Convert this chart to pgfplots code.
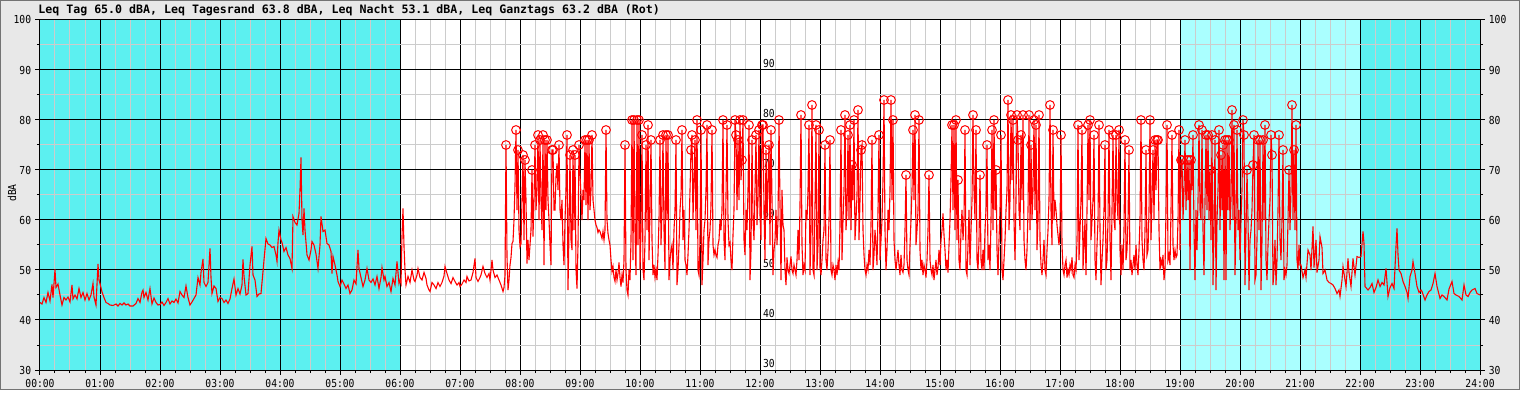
\documentclass[border=0pt]{standalone}
\usepackage{pgfplots}
\pgfplotsset{compat=1.18}
\usepackage{pgfplotstable}
\usepackage{fontspec}
\setmonofont{DejaVu Sans Mono}
\newfontfamily\tickfont[FakeStretch=0.88]{DejaVu Sans Mono}
\newfontfamily\titlefont{DejaVu Sans Mono}
\definecolor{nightc}{RGB}{92,240,240}
\definecolor{evec}{RGB}{170,255,255}
\definecolor{bgc}{RGB}{232,232,232}
\definecolor{mgrid}{RGB}{204,204,204}
\newcommand{\tf}{\tickfont\fontsize{5.5pt}{6pt}\selectfont}

\pgfplotstableread[row sep=\\]{
x y\\
0 43.5\\ 2 43.2\\ 4 44.5\\ 6 43.5\\ 8 45.5\\ 10 43.8\\ 12 47.1\\ 13 44.5\\ 15 50.1\\ 16 46.5\\ 18 47.2\\ 20 45.0\\ 22 43.0\\ 24 44.5\\ 26 44.0\\ 28 44.6\\ 30 43.6\\ 32 47.0\\ 33 44.2\\ 35 45.0\\
37 44.2\\ 39 46.3\\ 41 44.5\\ 43 45.5\\ 45 44.0\\ 47 45.3\\ 49 44.0\\ 51 45.0\\ 53 47.3\\ 54 44.6\\ 56 43.0\\ 58 51.2\\ 59 48.0\\ 60 47.3\\ 62 45.6\\ 64 44.5\\ 66 43.5\\ 68 43.3\\ 70 43.0\\ 73 42.9\\
76 43.2\\ 78 42.8\\ 80 43.3\\ 82 43.0\\ 84 43.4\\ 86 43.0\\ 88 43.2\\ 90 42.8\\ 93 42.8\\ 96 43.3\\ 98 44.3\\ 100 43.5\\ 102 45.6\\ 103 46.0\\ 104 44.5\\ 106 45.5\\ 108 44.0\\ 110 46.3\\ 112 43.2\\ 114 44.4\\
116 43.5\\ 118 43.0\\ 120 43.1\\ 122 43.6\\ 124 42.9\\ 126 43.5\\ 128 44.3\\ 130 43.2\\ 132 43.8\\ 134 43.5\\ 136 44.2\\ 138 43.4\\ 140 45.7\\ 142 45.0\\ 144 44.5\\ 146 46.8\\ 148 44.5\\ 150 43.0\\ 152 43.6\\ 154 44.3\\
156 45.0\\ 158 48.5\\ 160 47.0\\ 161 49.5\\ 163 52.2\\ 164 47.5\\ 166 46.7\\ 168 47.5\\ 170 54.3\\ 171 48.5\\ 172 45.3\\ 174 46.8\\ 176 46.3\\ 178 43.7\\ 180 44.5\\ 182 44.3\\ 184 43.5\\ 186 44.0\\ 188 43.3\\ 190 44.2\\
192 46.3\\ 194 48.2\\ 196 45.0\\ 198 46.3\\ 200 45.2\\ 202 47.0\\ 203 52.1\\ 204 48.8\\ 206 45.0\\ 208 45.3\\ 210 51.0\\ 212 54.7\\ 213 49.0\\ 215 48.0\\ 217 44.7\\ 219 45.2\\ 221 45.3\\ 223 49.7\\ 224 52.0\\ 226 56.3\\
228 55.2\\ 230 55.0\\ 232 54.5\\ 234 54.7\\ 236 53.0\\ 237 51.7\\ 238 55.5\\ 239 58.0\\ 241 56.0\\ 242 55.5\\ 244 53.7\\ 246 54.5\\ 248 53.0\\ 250 52.3\\ 252 50.3\\ 253 60.7\\ 255 59.5\\ 257 59.0\\ 259 61.3\\ 260 66.0\\
261 72.5\\ 262 60.0\\ 263 57.0\\ 264 62.3\\ 265 58.0\\ 267 53.0\\ 269 52.0\\ 271 54.0\\ 272 55.7\\ 274 55.0\\ 276 53.2\\ 278 50.3\\ 280 55.0\\ 281 60.7\\ 283 57.7\\ 285 58.0\\ 287 55.3\\ 289 55.0\\ 291 53.7\\ 292 49.3\\
293 52.7\\ 295 51.0\\ 297 49.0\\ 298 47.7\\ 300 46.7\\ 302 48.0\\ 304 47.2\\ 306 46.3\\ 308 47.0\\ 310 45.3\\ 312 46.0\\ 314 48.0\\ 316 47.2\\ 318 54.0\\ 319 50.3\\ 321 48.5\\ 323 46.7\\ 325 48.0\\ 327 50.3\\ 329 48.0\\
331 47.5\\ 333 48.2\\ 335 47.0\\ 337 48.7\\ 339 46.3\\ 341 48.5\\ 342 50.5\\ 344 48.0\\ 345 48.7\\ 347 46.7\\ 349 47.5\\ 351 45.7\\ 353 48.3\\ 355 47.0\\ 357 51.7\\ 359 47.3\\ 360 48.0\\
361 47.3\\ 362 56.7\\ 363 62.3\\ 364 54.7\\ 365 50.0\\ 366 47.0\\ 368 48.7\\ 370 47.5\\ 372 50.0\\ 374 48.0\\ 375 47.7\\ 377 49.0\\ 378 50.3\\ 380 48.5\\ 382 48.0\\ 384 49.5\\ 386 48.3\\ 387 47.0\\ 389 46.0\\ 390 45.7\\
392 47.5\\ 394 47.0\\ 396 46.3\\ 398 47.5\\ 400 46.7\\ 402 47.5\\ 404 48.8\\ 405 50.7\\ 407 49.3\\ 409 48.0\\ 411 47.3\\ 413 48.5\\ 415 47.7\\ 417 47.0\\ 419 47.5\\ 420 46.7\\ 422 47.2\\ 424 48.0\\ 426 47.5\\ 427 48.7\\
429 47.8\\ 431 48.0\\ 433 49.5\\ 435 52.3\\ 436 48.5\\ 438 47.7\\ 440 48.5\\ 441 49.0\\ 443 50.7\\ 445 49.3\\ 447 48.5\\ 449 49.3\\ 450 48.0\\ 452 52.0\\ 453 50.0\\ 455 48.5\\ 457 49.0\\ 459 48.0\\ 461 47.0\\ 463 45.7\\
464 46.5\\ 465 49.0\\ 466 75.0\\ 467 52.7\\ 468 46.0\\ 469 48.0\\ 470 51.0\\ 471 52.5\\ 472 55.3\\ 473 55.7\\ 474 60.0\\ 475 67.0\\ 476 78.0\\ 477 62.0\\ 478 74.0\\ 479 58.0\\ 480 54.7\\ 481 55.3\\ 482 64.0\\ 483 73.0\\
484 56.0\\ 485 72.0\\ 486 64.0\\ 487 51.3\\ 488 56.0\\ 489 52.0\\ 490 55.0\\ 491 58.0\\ 492 70.0\\ 493 56.7\\ 494 64.0\\ 495 75.0\\ 496 62.0\\ 497 66.0\\ 498 77.0\\ 499 60.0\\ 500 76.0\\ 501 64.0\\ 502 58.0\\ 503 77.0\\
504 51.0\\ 505 76.0\\ 506 62.0\\ 507 76.0\\ 508 64.0\\ 509 60.0\\ 510 55.0\\ 511 51.0\\ 512 74.0\\ 513 74.0\\ 514 62.0\\ 515 62.0\\ 516 68.7\\ 517 71.3\\ 518 66.0\\ 519 75.0\\ 520 62.0\\ 521 60.0\\ 522 64.0\\ 523 55.0\\
524 51.0\\ 525 60.0\\ 526 66.0\\ 527 77.0\\ 528 46.0\\ 529 58.0\\ 530 73.0\\ 531 56.0\\ 532 54.0\\ 533 74.0\\ 534 58.0\\ 535 73.0\\ 536 50.0\\ 537 46.3\\ 538 55.0\\ 539 75.0\\ 540 69.0\\ 541 65.0\\ 542 60.0\\ 543 66.0\\
544 64.0\\ 545 76.0\\ 546 63.0\\ 547 76.0\\ 548 60.0\\ 549 76.0\\ 550 62.0\\ 551 66.0\\ 552 77.0\\ 553 64.0\\ 554 62.0\\ 555 60.0\\ 556 59.0\\ 557 58.5\\ 558 57.5\\ 559 58.0\\ 560 57.7\\ 561 57.0\\ 562 56.3\\ 563 57.7\\
564 56.0\\ 565 58.0\\ 566 78.0\\ 567 60.0\\ 568 57.3\\ 569 56.0\\ 570 55.0\\ 571 52.0\\ 572 49.7\\ 573 50.7\\ 574 48.5\\ 575 47.7\\ 576 50.0\\ 577 48.0\\ 578 49.3\\ 579 51.5\\ 580 48.5\\ 581 46.7\\ 582 49.0\\ 583 47.5\\
584 52.0\\ 585 75.0\\ 586 50.0\\ 587 46.0\\ 588 45.0\\ 589 50.0\\ 590 48.0\\ 591 56.0\\ 592 80.0\\ 593 52.0\\ 594 80.0\\ 595 58.0\\ 596 49.0\\ 597 80.0\\ 598 55.0\\ 599 80.0\\ 600 50.0\\ 601 58.0\\ 602 77.0\\ 603 50.0\\
604 48.0\\ 605 56.0\\ 606 75.0\\ 607 58.0\\ 608 79.0\\ 609 52.0\\ 610 62.0\\ 611 76.0\\ 612 56.0\\ 613 49.0\\ 614 51.0\\ 615 48.5\\ 616 50.0\\ 617 48.0\\ 618 53.0\\ 619 60.0\\ 620 76.0\\ 621 55.0\\ 622 62.0\\ 623 77.0\\
624 58.0\\ 625 50.0\\ 626 77.0\\ 627 60.0\\ 628 77.0\\ 629 48.0\\ 630 52.0\\ 631 54.0\\ 632 55.0\\ 633 50.0\\ 634 58.0\\ 635 62.0\\ 636 76.0\\ 637 47.0\\ 638 50.0\\ 639 55.0\\ 640 62.0\\ 641 65.0\\ 642 78.0\\ 643 56.0\\
644 62.0\\ 645 52.0\\ 646 51.0\\ 647 49.0\\ 648 53.0\\ 649 58.0\\ 650 66.0\\ 651 74.0\\ 652 77.0\\ 653 60.0\\ 654 68.0\\ 655 76.0\\ 656 58.0\\ 657 80.0\\ 658 50.0\\ 659 49.0\\ 660 56.0\\ 661 78.0\\ 662 47.0\\ 663 52.0\\
664 58.0\\ 665 60.0\\ 666 66.0\\ 667 79.0\\ 668 51.0\\ 669 56.0\\ 670 58.0\\ 671 63.0\\ 672 78.0\\ 673 55.0\\ 674 53.0\\ 675 54.0\\ 676 53.0\\ 677 52.5\\ 678 55.0\\ 679 56.0\\ 680 60.0\\ 681 58.0\\ 682 62.0\\ 683 80.0\\
684 56.0\\ 685 52.0\\ 686 65.0\\ 687 79.0\\ 688 60.0\\ 689 55.0\\ 690 55.5\\ 691 52.0\\ 692 50.0\\ 693 57.0\\ 694 62.0\\ 695 80.0\\ 696 77.0\\ 697 62.0\\ 698 76.0\\ 699 64.0\\ 700 80.0\\ 701 68.0\\ 702 72.0\\ 703 80.0\\
704 56.0\\ 705 53.0\\ 706 62.0\\ 707 58.0\\ 708 66.0\\ 709 79.0\\ 710 48.0\\ 711 54.0\\ 712 76.0\\ 713 60.0\\ 714 56.0\\ 715 66.0\\ 716 77.0\\ 717 59.0\\ 718 64.0\\ 719 78.0\\ 720 61.0\\ 721 56.0\\ 722 79.0\\ 723 79.0\\
724 62.0\\ 725 52.0\\ 726 74.0\\ 727 60.0\\ 728 68.0\\ 729 75.0\\ 730 55.0\\ 731 78.0\\ 732 64.0\\ 733 49.0\\ 734 54.0\\ 735 56.0\\ 736 62.0\\ 737 55.0\\ 738 60.0\\ 739 80.0\\ 740 63.0\\ 741 48.0\\ 742 66.0\\ 743 59.0\\
744 58.0\\ 745 50.0\\ 746 47.0\\ 747 52.5\\ 748 50.0\\ 749 49.3\\ 750 51.0\\ 751 52.7\\ 752 50.0\\ 753 49.3\\ 754 51.0\\ 755 50.0\\ 756 49.0\\ 757 52.0\\ 758 58.0\\ 759 52.0\\ 760 63.0\\ 761 81.0\\ 762 55.0\\ 763 49.0\\
764 51.0\\ 765 50.0\\ 766 62.0\\ 767 60.0\\ 768 66.0\\ 769 79.0\\ 770 49.0\\ 771 58.0\\ 772 83.0\\ 773 50.0\\ 774 49.0\\ 775 63.0\\ 776 79.0\\ 777 50.0\\ 778 55.0\\ 779 78.0\\ 780 50.5\\ 781 49.0\\ 782 52.0\\ 783 56.0\\
784 58.0\\ 785 75.0\\ 786 52.0\\ 787 50.0\\ 788 54.0\\ 789 60.0\\ 790 76.0\\ 791 50.0\\ 792 49.0\\ 793 51.0\\ 794 50.0\\ 795 48.0\\ 796 51.0\\ 797 49.0\\ 798 51.5\\ 799 50.0\\ 800 59.0\\ 801 78.0\\ 802 52.0\\ 803 60.0\\
804 66.0\\ 805 81.0\\ 806 58.0\\ 807 62.0\\ 808 77.0\\ 809 60.0\\ 810 79.0\\ 811 58.0\\ 812 71.0\\ 813 64.0\\ 814 80.0\\ 815 56.0\\ 816 60.0\\ 817 65.0\\ 818 82.0\\ 819 56.0\\ 820 64.0\\ 821 74.0\\ 822 75.0\\ 823 58.0\\
824 53.0\\ 825 50.0\\ 826 49.0\\ 827 51.0\\ 828 50.0\\ 829 54.0\\ 830 51.0\\ 831 59.0\\ 832 76.0\\ 833 50.0\\ 834 53.0\\ 835 58.0\\ 836 55.0\\ 837 51.0\\ 838 62.0\\ 839 77.0\\ 840 52.0\\ 841 56.0\\ 842 60.0\\ 843 68.0\\
844 84.0\\ 845 58.0\\ 846 50.0\\ 847 54.0\\ 848 62.0\\ 849 58.0\\ 850 66.0\\ 851 84.0\\ 852 64.0\\ 853 80.0\\ 854 56.0\\ 855 52.0\\ 856 50.0\\ 857 52.0\\ 858 54.0\\ 859 51.0\\ 860 49.0\\ 861 53.0\\ 862 50.0\\ 863 49.5\\
864 51.0\\ 865 58.0\\ 866 69.0\\ 867 52.0\\ 868 50.0\\ 869 49.0\\ 870 55.0\\ 871 60.0\\ 872 66.0\\ 873 78.0\\ 874 64.0\\ 875 81.0\\ 876 55.0\\ 877 58.0\\ 878 62.0\\ 879 80.0\\ 880 54.0\\ 881 50.0\\ 882 52.0\\ 883 49.0\\
884 51.0\\ 885 50.0\\ 886 48.5\\ 887 52.0\\ 888 58.0\\ 889 69.0\\ 890 52.0\\ 891 50.0\\ 892 49.0\\ 893 51.0\\ 894 48.0\\ 895 50.0\\ 896 52.0\\ 897 49.0\\ 898 50.5\\ 899 54.0\\ 900 51.0\\ 901 56.0\\ 902 58.0\\ 903 61.3\\
904 57.0\\ 905 54.0\\ 906 50.0\\ 907 52.0\\ 908 49.5\\ 909 55.0\\ 910 60.0\\ 911 68.0\\ 912 79.0\\ 913 62.0\\ 914 79.0\\ 915 58.0\\ 916 80.0\\ 917 56.0\\ 918 68.0\\ 919 52.0\\ 920 50.0\\ 921 58.0\\ 922 62.0\\ 923 56.0\\
924 60.0\\ 925 78.0\\ 926 50.0\\ 927 49.0\\ 928 55.0\\ 929 62.0\\ 930 51.0\\ 931 58.0\\ 932 64.0\\ 933 81.0\\ 934 66.0\\ 935 60.0\\ 936 78.0\\ 937 52.0\\ 938 50.0\\ 939 56.0\\ 940 69.0\\ 941 52.0\\ 942 50.0\\ 943 54.0\\
944 50.0\\ 945 58.0\\ 946 62.0\\ 947 75.0\\ 948 52.0\\ 949 55.0\\ 950 50.0\\ 951 60.0\\ 952 78.0\\ 953 58.0\\ 954 80.0\\ 955 62.0\\ 956 70.0\\ 957 54.0\\ 958 49.0\\ 959 56.0\\ 960 62.0\\ 961 77.0\\ 962 50.0\\ 963 48.0\\
964 52.0\\ 965 56.0\\ 966 62.0\\ 967 66.0\\ 968 84.0\\ 969 58.0\\ 970 64.0\\ 971 81.0\\ 972 68.0\\ 973 80.0\\ 974 60.0\\ 975 52.0\\ 976 64.0\\ 977 81.0\\ 978 76.0\\ 979 62.0\\ 980 58.0\\ 981 77.0\\ 982 64.0\\ 983 81.0\\
984 56.0\\ 985 52.0\\ 986 50.0\\ 987 54.0\\ 988 62.0\\ 989 81.0\\ 990 58.0\\ 991 75.0\\ 992 60.0\\ 993 66.0\\ 994 80.0\\ 995 62.0\\ 996 79.0\\ 997 54.0\\ 998 60.0\\ 999 81.0\\ 1000 56.0\\ 1001 51.0\\ 1002 49.0\\ 1003 52.0\\
1004 56.0\\ 1005 50.0\\ 1006 49.0\\ 1007 54.0\\ 1008 58.0\\ 1009 64.0\\ 1010 83.0\\ 1011 62.0\\ 1012 55.0\\ 1013 78.0\\ 1014 60.0\\ 1015 64.0\\ 1016 62.0\\ 1017 59.0\\ 1018 57.0\\ 1019 55.0\\ 1020 58.0\\ 1021 77.0\\ 1022 55.0\\ 1023 50.0\\
1024 49.0\\ 1025 51.0\\ 1026 52.0\\ 1027 48.5\\ 1028 50.0\\ 1029 49.0\\ 1030 51.0\\ 1031 50.0\\ 1032 52.5\\ 1033 49.0\\ 1034 48.5\\ 1035 51.0\\ 1036 50.0\\ 1037 56.0\\ 1038 79.0\\ 1039 52.0\\ 1040 58.0\\ 1041 64.0\\ 1042 78.0\\ 1043 50.0\\
1044 55.0\\ 1045 60.0\\ 1046 49.0\\ 1047 62.0\\ 1048 79.0\\ 1049 64.0\\ 1050 80.0\\ 1051 56.0\\ 1052 60.0\\ 1053 64.0\\ 1054 77.0\\ 1055 52.0\\ 1056 48.0\\ 1057 55.0\\ 1058 60.0\\ 1059 79.0\\ 1060 58.0\\ 1061 47.0\\ 1062 52.0\\ 1063 56.0\\
1064 62.0\\ 1065 75.0\\ 1066 50.0\\ 1067 52.0\\ 1068 60.0\\ 1069 78.0\\ 1070 56.0\\ 1071 48.0\\ 1072 62.0\\ 1073 77.0\\ 1074 60.0\\ 1075 58.0\\ 1076 77.0\\ 1077 64.0\\ 1078 60.0\\ 1079 78.0\\ 1080 54.0\\ 1081 49.0\\ 1082 55.0\\ 1083 50.0\\
1084 58.0\\ 1085 76.0\\ 1086 52.0\\ 1087 54.0\\ 1088 60.0\\ 1089 74.0\\ 1090 50.0\\ 1091 52.0\\ 1092 49.0\\ 1093 51.0\\ 1094 53.0\\ 1095 50.0\\ 1096 55.0\\ 1097 51.0\\ 1098 49.0\\ 1099 54.0\\ 1100 60.0\\ 1101 80.0\\ 1102 56.0\\ 1103 52.0\\
1104 50.0\\ 1105 58.0\\ 1106 74.0\\ 1107 53.0\\ 1108 54.0\\ 1109 62.0\\ 1110 80.0\\ 1111 56.0\\ 1112 64.0\\ 1113 74.0\\ 1114 60.0\\ 1115 76.0\\ 1116 66.0\\ 1117 76.0\\ 1118 76.0\\ 1119 58.0\\ 1120 50.0\\ 1121 52.0\\ 1122 51.0\\ 1123 53.0\\
1124 48.0\\ 1125 50.0\\ 1126 62.0\\ 1127 79.0\\ 1128 52.0\\ 1129 53.0\\ 1130 51.0\\ 1131 62.0\\ 1132 77.0\\ 1133 55.0\\ 1134 52.0\\ 1135 54.0\\ 1136 52.5\\ 1137 53.0\\ 1138 60.0\\ 1139 78.0\\ 1140 54.0\\ 1141 72.0\\ 1142 72.0\\ 1143 60.0\\
1144 66.0\\ 1145 76.0\\ 1146 62.0\\ 1147 72.0\\ 1148 64.0\\ 1149 72.0\\ 1150 50.0\\ 1151 72.0\\ 1152 66.0\\ 1153 77.0\\ 1154 58.0\\ 1155 48.0\\ 1156 62.0\\ 1157 54.0\\ 1158 64.0\\ 1159 79.0\\ 1160 62.0\\ 1161 60.0\\ 1162 78.0\\ 1163 58.0\\
1164 49.0\\ 1165 64.0\\ 1166 77.0\\ 1167 62.0\\ 1168 77.0\\ 1169 60.0\\ 1170 70.0\\ 1171 56.0\\ 1172 77.0\\ 1173 47.0\\ 1174 58.0\\ 1175 76.0\\ 1176 46.0\\ 1177 60.0\\ 1178 66.0\\ 1179 78.0\\ 1180 58.0\\ 1181 73.0\\ 1182 62.0\\ 1183 75.0\\
1184 48.0\\ 1185 76.0\\ 1186 48.0\\ 1187 76.0\\ 1188 62.0\\ 1189 76.0\\ 1190 58.0\\ 1191 64.0\\ 1192 82.0\\ 1193 60.0\\ 1194 79.0\\ 1195 49.0\\ 1196 60.0\\ 1197 78.0\\ 1198 58.0\\ 1199 62.0\\ 1200 52.0\\ 1201 60.0\\ 1202 66.0\\ 1203 80.0\\
1204 77.0\\ 1205 47.0\\ 1206 58.0\\ 1207 70.0\\ 1208 60.0\\ 1209 46.0\\ 1210 56.0\\ 1211 58.0\\ 1212 62.0\\ 1213 71.0\\ 1214 77.0\\ 1215 48.0\\ 1216 49.0\\ 1217 56.0\\ 1218 76.0\\ 1219 58.0\\ 1220 76.0\\ 1221 46.0\\ 1222 56.0\\ 1223 76.0\\
1224 60.0\\ 1225 79.0\\ 1226 52.0\\ 1227 48.0\\ 1228 55.0\\ 1229 60.0\\ 1230 64.0\\ 1231 77.0\\ 1232 73.0\\ 1233 47.0\\ 1234 50.0\\ 1235 56.0\\ 1236 47.0\\ 1237 52.0\\ 1238 62.0\\ 1239 77.0\\ 1240 56.0\\ 1241 52.0\\ 1242 60.0\\ 1243 74.0\\
1244 48.0\\ 1245 50.0\\ 1246 49.0\\ 1247 51.0\\ 1248 60.0\\ 1249 70.0\\ 1250 58.0\\ 1251 66.0\\ 1252 83.0\\ 1253 60.0\\ 1254 74.0\\ 1255 58.0\\ 1256 79.0\\ 1257 52.0\\ 1258 50.0\\ 1259 55.0\\ 1260 51.0\\
1261 51.0\\ 1263 48.5\\ 1265 50.0\\ 1266 48.5\\ 1268 54.0\\ 1270 53.0\\ 1271 50.0\\ 1273 58.7\\ 1274 50.5\\ 1276 56.0\\ 1277 49.5\\ 1279 52.0\\ 1280 56.7\\ 1282 54.5\\ 1283 49.3\\ 1285 50.0\\ 1287 48.0\\ 1289 47.5\\ 1291 47.3\\ 1293 47.0\\
1295 46.3\\ 1297 45.3\\ 1299 46.0\\ 1300 44.7\\ 1302 48.0\\ 1303 50.7\\ 1305 48.0\\ 1306 46.7\\ 1308 52.3\\ 1309 49.5\\ 1311 46.7\\ 1313 52.3\\ 1315 49.0\\ 1317 52.7\\ 1319 52.5\\ 1321 52.7\\ 1323 57.7\\ 1324 55.3\\ 1325 46.7\\ 1328 46.0\\
1330 46.5\\ 1332 47.3\\ 1334 45.5\\ 1336 46.5\\ 1338 48.0\\ 1340 46.7\\ 1342 47.5\\ 1344 47.0\\ 1346 50.3\\ 1348 44.7\\ 1350 46.5\\ 1352 47.3\\ 1354 46.3\\ 1356 54.7\\ 1357 58.3\\ 1358 53.0\\ 1359 50.0\\ 1361 49.3\\ 1363 47.7\\ 1365 46.7\\
1367 45.5\\ 1368 44.3\\ 1370 48.7\\ 1372 50.0\\ 1373 51.7\\ 1375 49.3\\ 1377 46.7\\ 1379 45.5\\ 1381 46.0\\ 1382 45.7\\ 1385 44.0\\ 1387 45.0\\ 1389 45.7\\ 1391 46.0\\ 1393 47.3\\ 1395 49.3\\ 1397 46.7\\ 1400 44.3\\ 1402 45.0\\ 1404 44.7\\
1407 44.0\\ 1409 46.2\\ 1412 47.7\\ 1414 45.3\\ 1416 45.0\\ 1419 44.7\\ 1422 44.0\\ 1424 47.0\\ 1426 45.0\\ 1428 44.7\\ 1430 45.5\\ 1432 46.0\\ 1435 46.3\\ 1437 45.3\\ 1440 45.0\\
}\levels

\pgfplotstableread[row sep=\\]{
x y\\
466 75\\ 476 78\\ 478 74\\ 483 73\\ 485 72\\ 492 70\\ 495 75\\ 498 77\\ 500 76\\ 503 77\\ 505 76\\ 507 76\\ 512 74\\ 513 74\\ 519 75\\ 527 77\\ 530 73\\ 533 74\\ 535 73\\ 539 75\\
545 76\\ 547 76\\ 549 76\\ 552 77\\ 566 78\\ 585 75\\ 592 80\\ 594 80\\ 597 80\\ 599 80\\ 602 77\\ 606 75\\ 608 79\\ 611 76\\ 620 76\\ 623 77\\ 626 77\\ 628 77\\ 636 76\\ 642 78\\
651 74\\ 652 77\\ 655 76\\ 657 80\\ 661 78\\ 667 79\\ 672 78\\ 683 80\\ 687 79\\ 695 80\\ 696 77\\ 698 76\\ 700 80\\ 702 72\\ 703 80\\ 709 79\\ 712 76\\ 716 77\\ 719 78\\ 722 79\\
723 79\\ 726 74\\ 729 75\\ 731 78\\ 739 80\\ 761 81\\ 769 79\\ 772 83\\ 776 79\\ 779 78\\ 785 75\\ 790 76\\ 801 78\\ 805 81\\ 808 77\\ 810 79\\ 812 71\\ 814 80\\ 818 82\\ 821 74\\
822 75\\ 832 76\\ 839 77\\ 844 84\\ 851 84\\ 853 80\\ 866 69\\ 873 78\\ 875 81\\ 879 80\\ 889 69\\ 912 79\\ 914 79\\ 916 80\\ 918 68\\ 925 78\\ 933 81\\ 936 78\\ 940 69\\ 947 75\\
952 78\\ 954 80\\ 956 70\\ 961 77\\ 968 84\\ 971 81\\ 973 80\\ 977 81\\ 978 76\\ 981 77\\ 983 81\\ 989 81\\ 991 75\\ 994 80\\ 996 79\\ 999 81\\ 1010 83\\ 1013 78\\ 1021 77\\ 1038 79\\
1042 78\\ 1048 79\\ 1050 80\\ 1054 77\\ 1059 79\\ 1065 75\\ 1069 78\\ 1073 77\\ 1076 77\\ 1079 78\\ 1085 76\\ 1089 74\\ 1101 80\\ 1106 74\\ 1110 80\\ 1113 74\\ 1115 76\\ 1117 76\\ 1118 76\\ 1127 79\\
1132 77\\ 1139 78\\ 1141 72\\ 1142 72\\ 1145 76\\ 1147 72\\ 1149 72\\ 1151 72\\ 1153 77\\ 1159 79\\ 1162 78\\ 1166 77\\ 1168 77\\ 1170 70\\ 1172 77\\ 1175 76\\ 1179 78\\ 1181 73\\ 1183 75\\ 1185 76\\
1187 76\\ 1189 76\\ 1192 82\\ 1194 79\\ 1197 78\\ 1203 80\\ 1204 77\\ 1207 70\\ 1213 71\\ 1214 77\\ 1218 76\\ 1220 76\\ 1223 76\\ 1225 79\\ 1231 77\\ 1232 73\\ 1239 77\\ 1243 74\\ 1249 70\\ 1252 83\\
1254 74\\ 1256 79\\
}\peaks

\pgfplotsset{
  chartbase/.style={
    scale only axis, width=720pt, height=175pt,
    at={(0pt,0pt)}, anchor=south west,
    xmin=0, xmax=1440, ymin=30, ymax=100,
    axis line style={black, line width=0.5pt},
    tick style={black, line width=0.5pt},
    tick align=outside,
    major tick length=2.4pt, minor tick length=1.6pt,
    tick label style={font=\tf},
    /pgf/number format/assume math mode=true,
    ytick={30,40,...,100}, minor y tick num=1,
  }
}

\begin{document}
\begin{tikzpicture}
\begin{axis}[chartbase,
  set layers, clip=false,
  xtick={0,60,...,1440},
  xticklabels={00:00,01:00,02:00,03:00,04:00,05:00,06:00,07:00,08:00,09:00,10:00,11:00,12:00,13:00,14:00,15:00,16:00,17:00,18:00,19:00,20:00,21:00,22:00,23:00,24:00},
  minor x tick num=3,
  xtick pos=bottom, ytick pos=left,
  xticklabel style={yshift=1.5pt},
  yticklabel style={xshift=1.5pt},
  grid=both,
  major grid style={black, line width=0.5pt},
  minor grid style={mgrid, line width=0.5pt},
]
\begin{pgfonlayer}{axis background}
\fill[bgc] ([shift={(-20pt,-10pt)}]rel axis cs:0,0) rectangle ([shift={(20pt,10pt)}]rel axis cs:1,1);
\fill[white] (axis cs:0,30) rectangle (axis cs:1440,100);
\fill[nightc] (axis cs:0,30) rectangle (axis cs:360,100);
\fill[evec] (axis cs:1140,30) rectangle (axis cs:1320,100);
\fill[nightc] (axis cs:1320,30) rectangle (axis cs:1440,100);
\end{pgfonlayer}
\begin{pgfonlayer}{axis tick labels}
\node[anchor=south west, inner sep=0pt, font=\tf, xshift=1.3pt, yshift=1.2pt] at (axis cs:720,30) {30};
\node[anchor=south west, inner sep=0pt, font=\tf, xshift=1.3pt, yshift=1.2pt] at (axis cs:720,40) {40};
\node[anchor=south west, inner sep=0pt, font=\tf, xshift=1.3pt, yshift=1.2pt] at (axis cs:720,50) {50};
\node[anchor=south west, inner sep=0pt, font=\tf, xshift=1.3pt, yshift=1.2pt] at (axis cs:720,60) {60};
\node[anchor=south west, inner sep=0pt, font=\tf, xshift=1.3pt, yshift=1.2pt] at (axis cs:720,70) {70};
\node[anchor=south west, inner sep=0pt, font=\tf, xshift=1.3pt, yshift=1.2pt] at (axis cs:720,80) {80};
\node[anchor=south west, inner sep=0pt, font=\tf, xshift=1.3pt, yshift=1.2pt] at (axis cs:720,90) {90};
\end{pgfonlayer}
\addplot[red, line width=0.55pt] table {\levels};
\addplot[red, only marks, mark=o, mark size=2.2pt, mark options={line width=0.5pt}] table {\peaks};
\end{axis}
\begin{axis}[chartbase,
  xtick=\empty,
  ytick pos=right, yticklabel pos=right,
  yticklabel style={xshift=-1.5pt},
]
\end{axis}
\node[anchor=base west, inner sep=0pt, font=\titlefont\bfseries\fontsize{5.8pt}{7pt}\selectfont] at (-1pt,178pt) {Leq Tag 65.0 dBA, Leq Tagesrand 63.8 dBA, Leq Nacht 53.1 dBA, Leq Ganztags 63.2 dBA (Rot)};
\node[rotate=90, inner sep=0pt, font=\tf] at (-14pt,88.5pt) {dBA};
\draw[black!55, line width=0.5pt] (-19.75pt,-9.75pt) rectangle (739.75pt,184.75pt);
\end{tikzpicture}
\end{document}
